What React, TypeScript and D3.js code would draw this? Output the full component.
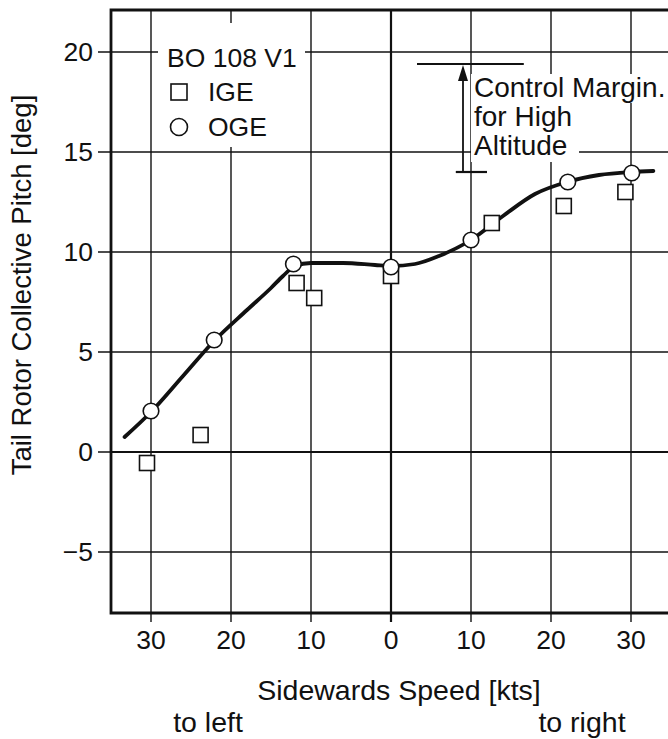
import React, { useRef, useEffect } from 'react';
import * as d3 from 'd3';

// sidewards speed in kts, negative = to left
const igeSpeed = [-30.5, -23.8, -11.8, -9.6, 0, 12.6, 21.6, 29.3];
const igePitch = [-0.55, 0.85, 8.45, 7.7, 8.8, 11.45, 12.3, 13.0];

const ogeSpeed = [-30, -22.1, -12.2, 0, 10, 22.1, 30.1];
const ogePitch = [2.05, 5.6, 9.4, 9.25, 10.6, 13.5, 13.95];

// faired line through the OGE points
const fitSpeed = [-33.3, -30, -26, -22, -18, -15, -13.5, -12, -10, -6, -2, 0, 3, 6, 10, 14, 18, 22, 26, 30, 32.8];
const fitPitch = [0.75, 2.0, 3.8, 5.6, 7.1, 8.2, 8.8, 9.3, 9.45, 9.45, 9.35, 9.3, 9.4, 9.8, 10.6, 11.8, 12.9, 13.5, 13.85, 14.0, 14.05];

const xTicks = [-30, -20, -10, 0, 10, 20, 30];
const yTicks = [-5, 0, 5, 10, 15, 20];

const marginLines = ['Control Margin.', 'for High', 'Altitude'];

const W = 668;
const H = 739;
const FONT = '"Liberation Sans", Arial, Helvetica, sans-serif';

const App = () => {
  const svgRef = useRef<SVGSVGElement>(null);

  useEffect(() => {
    if (!svgRef.current) return;
    const svg = d3.select(svgRef.current);
    svg.selectAll('*').remove();

    const x = d3.scaleLinear().domain([-35, 35]).range([111, 671]);
    const y = d3.scaleLinear().domain([-8.05, 22.1]).range([613, 10]);
    const [left] = x.range();
    const [bottom, top] = y.range();

    const g = svg.append('g').attr('font-family', FONT).attr('fill', '#111');

    // grid
    g.selectAll('.hgrid')
      .data(yTicks)
      .enter()
      .append('line')
      .attr('x1', left)
      .attr('x2', W)
      .attr('y1', d => y(d))
      .attr('y2', d => y(d))
      .attr('stroke', '#111')
      .attr('stroke-width', d => (d === 0 ? 2.2 : 1.4));

    g.selectAll('.vgrid')
      .data(xTicks)
      .enter()
      .append('line')
      .attr('x1', d => x(d))
      .attr('x2', d => x(d))
      .attr('y1', top)
      .attr('y2', bottom + 9)
      .attr('stroke', '#111')
      .attr('stroke-width', d => (d === 0 ? 2.2 : 1.4));

    // y ticks outside
    g.selectAll('.ytick')
      .data(yTicks)
      .enter()
      .append('line')
      .attr('x1', left - 13)
      .attr('x2', left)
      .attr('y1', d => y(d))
      .attr('y2', d => y(d))
      .attr('stroke', '#111')
      .attr('stroke-width', 1.5);

    // frame (no right edge in the scan)
    g.append('path')
      .attr('d', `M${W},${top}H${left}V${bottom}H${W}`)
      .attr('fill', 'none')
      .attr('stroke', '#111')
      .attr('stroke-width', 2.8);

    // tick labels
    g.selectAll('.ylab')
      .data(yTicks)
      .enter()
      .append('text')
      .attr('x', 93)
      .attr('y', d => y(d))
      .attr('dy', '0.35em')
      .attr('text-anchor', 'end')
      .attr('font-size', 26.5)
      .text(d => (d < 0 ? `\u2212${Math.abs(d)}` : d));

    g.selectAll('.xlab')
      .data(xTicks)
      .enter()
      .append('text')
      .attr('x', d => x(d))
      .attr('y', 649)
      .attr('text-anchor', 'middle')
      .attr('font-size', 26.5)
      .text(d => Math.abs(d));

    // axis titles
    g.append('text')
      .attr('transform', 'translate(31,285) rotate(-90)')
      .attr('text-anchor', 'middle')
      .attr('font-size', 27.5)
      .text('Tail Rotor Collective Pitch [deg]');

    g.append('text')
      .attr('x', 399)
      .attr('y', 700)
      .attr('text-anchor', 'middle')
      .attr('font-size', 28.5)
      .text('Sidewards Speed [kts]');

    g.append('text')
      .attr('x', 208)
      .attr('y', 732)
      .attr('text-anchor', 'middle')
      .attr('font-size', 28.5)
      .text('to left');

    g.append('text')
      .attr('x', 582)
      .attr('y', 732)
      .attr('text-anchor', 'middle')
      .attr('font-size', 28.5)
      .text('to right');

    // legend
    g.append('rect')
      .attr('x', 158)
      .attr('y', 23)
      .attr('width', 147)
      .attr('height', 124)
      .attr('fill', '#fff');
    g.append('text').attr('x', 167).attr('y', 67).attr('font-size', 26.5).text('BO 108 V1');
    g.append('rect')
      .attr('x', 171)
      .attr('y', 84)
      .attr('width', 16)
      .attr('height', 16)
      .attr('fill', '#fff')
      .attr('stroke', '#111')
      .attr('stroke-width', 1.6);
    g.append('text').attr('x', 208).attr('y', 101).attr('font-size', 26.5).text('IGE');
    g.append('circle')
      .attr('cx', 179)
      .attr('cy', 127)
      .attr('r', 8.5)
      .attr('fill', '#fff')
      .attr('stroke', '#111')
      .attr('stroke-width', 1.6);
    g.append('text').attr('x', 208).attr('y', 136).attr('font-size', 26.5).text('OGE');

    // control margin annotation
    const ax = x(9);
    const aTop = y(19.4);
    const aBot = y(14.0);
    g.append('rect').attr('x', 471).attr('y', 74).attr('width', 200).attr('height', 29).attr('fill', '#fff');
    g.append('rect').attr('x', 471).attr('y', 103).attr('width', 108).attr('height', 59).attr('fill', '#fff');
    g.append('line')
      .attr('x1', x(3.25))
      .attr('x2', x(16.6))
      .attr('y1', aTop)
      .attr('y2', aTop)
      .attr('stroke', '#111')
      .attr('stroke-width', 2);
    g.append('line')
      .attr('x1', x(8.1))
      .attr('x2', x(12))
      .attr('y1', aBot)
      .attr('y2', aBot)
      .attr('stroke', '#111')
      .attr('stroke-width', 2.2);
    g.append('line')
      .attr('x1', ax)
      .attr('x2', ax)
      .attr('y1', aBot)
      .attr('y2', aTop + 12)
      .attr('stroke', '#111')
      .attr('stroke-width', 1.8);
    g.append('path')
      .attr('d', `M${ax},${aTop + 1}L${ax - 5},${aTop + 17}L${ax + 5},${aTop + 17}Z`)
      .attr('fill', '#111');
    g.selectAll('.mtext')
      .data(marginLines)
      .enter()
      .append('text')
      .attr('x', 474)
      .attr('y', (d, i) => 97 + i * 29)
      .attr('font-size', 28)
      .text(d => d);

    // faired curve
    const line = d3.line<number>()
      .x(d => x(fitSpeed[d]))
      .y(d => y(fitPitch[d]))
      .curve(d3.curveMonotoneX);
    g.append('path')
      .attr('d', line(d3.range(fitSpeed.length)))
      .attr('fill', 'none')
      .attr('stroke', '#111')
      .attr('stroke-width', 3.8)
      .attr('stroke-linecap', 'round');

    // IGE squares
    g.selectAll('.ige')
      .data(d3.range(igeSpeed.length))
      .enter()
      .append('rect')
      .attr('x', i => x(igeSpeed[i]) - 7.5)
      .attr('y', i => y(igePitch[i]) - 7.5)
      .attr('width', 15)
      .attr('height', 15)
      .attr('fill', '#fff')
      .attr('stroke', '#111')
      .attr('stroke-width', 1.6);

    // OGE circles
    g.selectAll('.oge')
      .data(d3.range(ogeSpeed.length))
      .enter()
      .append('circle')
      .attr('cx', i => x(ogeSpeed[i]))
      .attr('cy', i => y(ogePitch[i]))
      .attr('r', 7.8)
      .attr('fill', '#fff')
      .attr('stroke', '#111')
      .attr('stroke-width', 1.6);
  }, []);

  return (
    <svg
      ref={svgRef}
      width={W}
      height={H}
      style={{ position: 'absolute', left: 0, top: 0, background: '#fff' }}
    />
  );
};

export default App;
